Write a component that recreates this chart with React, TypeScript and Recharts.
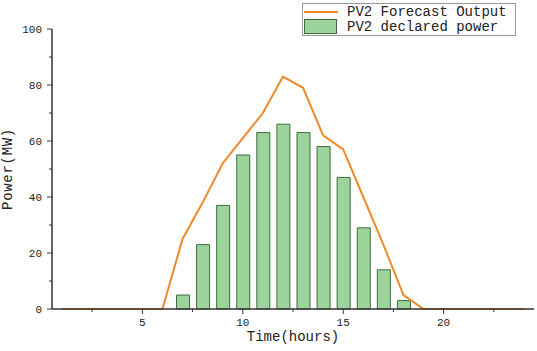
import React from 'react'
import { ComposedChart, Bar, Line, XAxis, YAxis } from 'recharts'

const hours = [1, 2, 3, 4, 5, 6, 7, 8, 9, 10, 11, 12, 13, 14, 15, 16, 17, 18, 19, 20, 21, 22, 23, 24]
const forecastOutput = [0, 0, 0, 0, 0, 0, 25, 38, 52, 61, 70, 83, 79, 62, 57, 40, 23, 5, 0, 0, 0, 0, 0, 0]
const declaredPower = [null, null, null, null, null, null, 5, 23, 37, 55, 63, 66, 63, 58, 47, 29, 14, 3, null, null, null, null, null, null]

const xTicks = [2.5, 5, 7.5, 10, 12.5, 15, 17.5, 20, 22.5]
const yTicks = [0, 10, 20, 30, 40, 50, 60, 70, 80, 90, 100]

const LINE_COLOR = '#f0892a'
const BAR_FILL = '#9dd49b'
const BAR_STROKE = '#3d6b3d'
const AXIS_COLOR = '#333'
const FONT = '"Liberation Mono", monospace'

const data = hours.map((h, i) => ({
  hour: h,
  forecast: forecastOutput[i],
  declared: declaredPower[i],
}))

// x ticks: major every 5 with label, minor in between
const XTick = (props: any) => {
  const { x, y, payload } = props
  const major = payload.value % 5 === 0
  return (
    <g>
      <line x1={x} x2={x} y1={y} y2={y + (major ? 5 : 3)} stroke={AXIS_COLOR} strokeWidth={1} />
      {major && (
        <text x={x} y={y + 17} textAnchor="middle" fontSize={11} fontFamily={FONT} fill="#222">
          {payload.value}
        </text>
      )}
    </g>
  )
}

const YTick = (props: any) => {
  const { x, y, payload } = props
  const major = payload.value % 20 === 0
  return (
    <g>
      <line x1={x - (major ? 5 : 3)} x2={x} y1={y} y2={y} stroke={AXIS_COLOR} strokeWidth={1} />
      {major && (
        <text x={x - 10} y={y + 4} textAnchor="end" fontSize={11} fontFamily={FONT} fill="#222">
          {payload.value}
        </text>
      )}
    </g>
  )
}

export default function App() {
  return (
    <div style={{ position: 'absolute', left: 0, top: 0, width: 537, height: 351, background: '#fff' }}>
      <ComposedChart
        width={537}
        height={351}
        data={data}
        margin={{ top: 29, right: 3, bottom: 0, left: 0 }}
      >
        <XAxis
          dataKey="hour"
          type="number"
          domain={[0.5, 24.5]}
          ticks={xTicks}
          height={42}
          tickSize={0}
          tickMargin={0}
          tickLine={false}
          tick={<XTick />}
          axisLine={{ stroke: AXIS_COLOR, strokeWidth: 1.5 }}
          allowDataOverflow
        />
        <YAxis
          type="number"
          domain={[0, 100]}
          ticks={yTicks}
          width={52}
          tickSize={0}
          tickMargin={0}
          tickLine={false}
          tick={<YTick />}
          axisLine={{ stroke: AXIS_COLOR, strokeWidth: 1.5 }}
          interval={0}
        />
        <Bar
          dataKey="declared"
          barSize={13}
          fill={BAR_FILL}
          stroke={BAR_STROKE}
          strokeWidth={1}
          isAnimationActive={false}
        />
        <Line
          dataKey="forecast"
          type="linear"
          stroke={LINE_COLOR}
          strokeWidth={2}
          dot={false}
          isAnimationActive={false}
        />
      </ComposedChart>

      <div
        style={{
          position: 'absolute',
          left: 8,
          top: 169,
          transform: 'translate(-50%, -50%) rotate(-90deg)',
          fontFamily: FONT,
          fontSize: 14,
          letterSpacing: 0.7,
          color: '#222',
          whiteSpace: 'nowrap',
        }}
      >
        Power(MW)
      </div>
      <div
        style={{
          position: 'absolute',
          left: 293,
          top: 337,
          transform: 'translate(-50%, -50%)',
          fontFamily: FONT,
          fontSize: 14,
          color: '#222',
          whiteSpace: 'nowrap',
        }}
      >
        Time(hours)
      </div>

      <div
        style={{
          position: 'absolute',
          left: 302,
          top: 3,
          width: 214,
          height: 33,
          border: '1px solid #999',
          boxSizing: 'border-box',
          fontFamily: FONT,
          fontSize: 14,
          color: '#222',
          background: '#fff',
        }}
      >
        <div style={{ position: 'absolute', left: 1, top: 7, width: 34, height: 2, background: LINE_COLOR }} />
        <div style={{ position: 'absolute', left: 44, top: 0, lineHeight: '16px' }}>PV2 Forecast Output</div>
        <div
          style={{
            position: 'absolute',
            left: 1,
            top: 15,
            width: 33,
            height: 15,
            background: BAR_FILL,
            border: `1px solid ${BAR_STROKE}`,
            boxSizing: 'border-box',
          }}
        />
        <div style={{ position: 'absolute', left: 44, top: 15, lineHeight: '16px' }}>PV2 declared power</div>
      </div>
    </div>
  )
}
